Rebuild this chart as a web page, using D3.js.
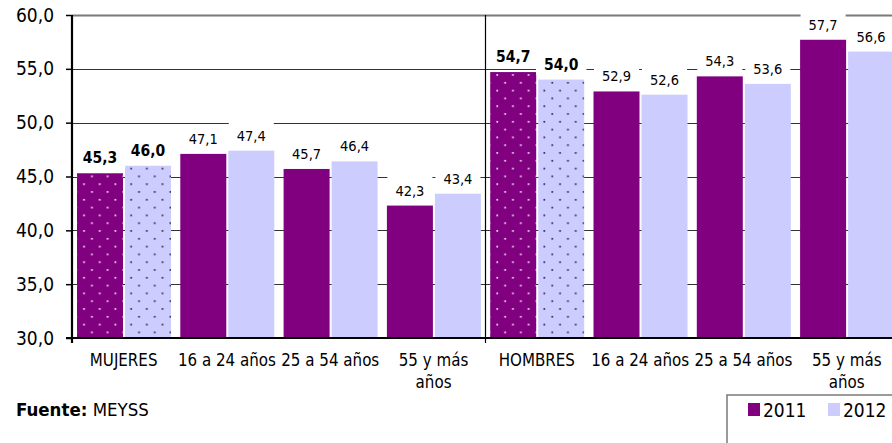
<!DOCTYPE html>
<html>
<head>
<meta charset="utf-8">
<script src="https://cdn.jsdelivr.net/npm/d3@7"></script>
<style>
  html, body { margin: 0; padding: 0; background: #fff; }
  svg { display: block; }
  text { font-family: "DejaVu Sans Condensed", "DejaVu Sans", sans-serif; fill: #000; }
</style>
</head>
<body>
<svg id="chart" width="892" height="443"></svg>
<script>
const categories = ["MUJERES", "16 a 24 años", "25 a 54 años", "55 y más años",
                    "HOMBRES", "16 a 24 años", "25 a 54 años", "55 y más años"];
const series = ["2011", "2012"];
const values2011 = [45.3, 47.1, 45.7, 42.3, 54.7, 52.9, 54.3, 57.7];
const values2012 = [46.0, 47.4, 46.4, 43.4, 54.0, 52.6, 53.6, 56.6];
const yTicks = [30, 35, 40, 45, 50, 55, 60];
const sourceLabel = "Fuente:";
const sourceText = " MEYSS";

(function () {
const colors = { "2011": "#800080", "2012": "#CCCCFF" };
const fmt = v => d3.format(".1f")(v).replace(".", ",");

const svg = d3.select("#chart");
const left = 72, plotTop = 15, bottom = 338, step = 103.3;

const x = d3.scaleBand().domain(d3.range(categories.length))
  .range([left, left + step * categories.length]).paddingInner(0).paddingOuter(0);
const xs = d3.scaleBand().domain(series).range([5, x.bandwidth() - 4.3]).paddingInner(2 / 48).paddingOuter(0);
const y = d3.scaleLinear().domain([30, 60]).range([bottom, plotTop]);

const isTotal = i => categories[i] === categories[i].toUpperCase();

// patterns
const defs = svg.append("defs");
function dotPattern(id, bg, dot) {
  const p = defs.append("pattern").attr("id", id).attr("patternUnits", "userSpaceOnUse")
    .attr("width", 15.7).attr("height", 15.6);
  p.append("rect").attr("width", 15.7).attr("height", 15.6).attr("fill", bg);
  p.append("rect").attr("x", 3.4).attr("y", 3.9).attr("width", 1.7).attr("height", 1.7).attr("fill", dot);
  p.append("rect").attr("x", 11.2).attr("y", 11.7).attr("width", 1.7).attr("height", 1.7).attr("fill", dot);
}
dotPattern("dots2011", colors["2011"], "#f4e4f4");
dotPattern("dots2012", colors["2012"], "#2e2e3e");

// gridlines
svg.append("g").selectAll("line").data(yTicks.filter(t => t > 30)).join("line")
  .attr("x1", left).attr("x2", 892)
  .attr("y1", d => Math.round(y(d)) + 0.5).attr("y2", d => Math.round(y(d)) + 0.5)
  .attr("stroke", d => d === 60 ? "#7a7a7a" : "#333")
  .attr("stroke-width", d => d === 60 ? 2 : 1.2);

// bars
const rows = categories.map((c, i) => ({ i, c, vals: [
  { s: "2011", v: values2011[i] }, { s: "2012", v: values2012[i] }] }));
const g = svg.append("g").selectAll("g").data(rows).join("g")
  .attr("transform", d => `translate(${x(d.i)},0)`);
g.selectAll("rect").data(d => d.vals.map(v => ({ ...v, i: d.i }))).join("rect")
  .attr("x", d => xs(d.s)).attr("width", xs.bandwidth())
  .attr("y", d => y(d.v)).attr("height", d => y(30) - y(d.v))
  .attr("fill", d => isTotal(d.i) ? `url(#dots${d.s})` : colors[d.s]);

// separator between groups
const sepX = Math.round(x(4)) + 0.5;
svg.append("line").attr("x1", sepX).attr("x2", sepX).attr("y1", plotTop).attr("y2", bottom + 5)
  .attr("stroke", "#000").attr("stroke-width", 1.2);

// axes
const yAxis = d3.axisLeft(y).tickValues(yTicks).tickSize(6).tickPadding(12).tickFormat(fmt);
const ya = svg.append("g").attr("transform", `translate(${left},0)`).call(yAxis);
ya.select(".domain").remove();
ya.selectAll(".tick line").attr("stroke", "#000").attr("stroke-width", 1.5);
ya.attr("font-family", null).attr("font-size", null);
ya.selectAll(".tick text").attr("font-size", 19);
svg.append("line").attr("x1", left).attr("x2", left).attr("y1", plotTop).attr("y2", bottom + 5)
  .attr("stroke", "#000").attr("stroke-width", 2.2);
svg.append("line").attr("x1", left - 6).attr("x2", 892).attr("y1", bottom).attr("y2", bottom)
  .attr("stroke", "#000").attr("stroke-width", 2.2);

// x labels
const xl = svg.append("g").selectAll("text").data(categories).join("text")
  .attr("x", (d, i) => x(i) + x.bandwidth() / 2).attr("y", 366)
  .attr("text-anchor", "middle").attr("font-size", 16.8);
xl.each(function (d) {
  const t = d3.select(this);
  const words = d.split(" ");
  let line = [], lines = [];
  const probe = t.append("tspan");
  words.forEach(w => {
    const trial = line.concat([w]).join(" ");
    probe.text(trial);
    if (probe.node().getComputedTextLength() > x.bandwidth() && line.length) {
      lines.push(line.join(" ")); line = [w];
    } else line.push(w);
  });
  lines.push(line.join(" "));
  probe.remove();
  lines.forEach((l, k) => t.append("tspan").attr("x", t.attr("x")).attr("dy", k ? 21.5 : 0).text(l));
});

// data labels
const lab = svg.append("g");
rows.forEach(r => r.vals.forEach(v => {
  const cx = x(r.i) + xs(v.s) + xs.bandwidth() / 2;
  const by = y(v.v) - 10;
  const lg = lab.append("g");
  const t = lg.append("text").attr("x", cx).attr("y", by).attr("text-anchor", "middle")
    .attr("font-size", isTotal(r.i) ? 15.5 : 14.5)
    .attr("font-weight", isTotal(r.i) ? "bold" : "normal").text(fmt(v.v));
  const w = t.node().getComputedTextLength();
  lg.insert("rect", "text").attr("x", cx - w / 2 - 8).attr("y", by - 19)
    .attr("width", w + 16).attr("height", 24).attr("fill", "#fff");
}));

// legend
const leg = svg.append("g");
leg.append("rect").attr("x", 727).attr("y", 395).attr("width", 200).attr("height", 70)
  .attr("fill", "#fff").attr("stroke", "#7a7a7a").attr("stroke-width", 1.5);
series.forEach((s, k) => {
  const lx = 748 + k * 80;
  leg.append("rect").attr("x", lx).attr("y", 403).attr("width", 12).attr("height", 13).attr("fill", colors[s]);
  leg.append("text").attr("x", lx + 15).attr("y", 417).attr("font-size", 19).text(s);
});

// source
const src = svg.append("text").attr("x", 16).attr("y", 416).attr("font-size", 18.5);
src.append("tspan").attr("font-weight", "bold").text(sourceLabel);
src.append("tspan").text(sourceText);
})();
</script>
</body>
</html>
